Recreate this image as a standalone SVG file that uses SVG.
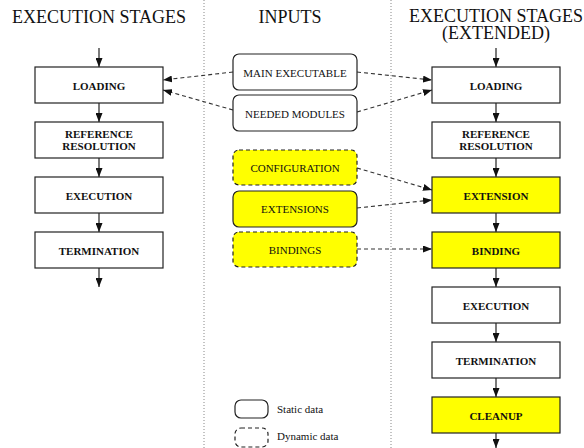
<svg xmlns="http://www.w3.org/2000/svg" width="584" height="448" viewBox="0 0 584 448">
<style>
.hdr{font-family:"Liberation Serif","Times New Roman",serif;font-size:18px;fill:#111;text-anchor:middle}
.stg{fill:#fff;stroke:#222;stroke-width:1.2}
.st{font-family:"Liberation Serif","Times New Roman",serif;font-size:11px;font-weight:bold;fill:#111;text-anchor:middle}
.inp{fill:#fff;stroke:#222;stroke-width:1.2}
.dyn{stroke-dasharray:4,3}
.hl{fill:#ffff00}
.it{font-family:"Liberation Serif","Times New Roman",serif;font-size:11px;fill:#111;text-anchor:middle}
.lt{font-family:"Liberation Serif","Times New Roman",serif;font-size:11px;fill:#111}
.flow{stroke:#222;stroke-width:1.2;fill:none}
.dash{stroke:#333;stroke-width:1.1;fill:none;stroke-dasharray:4,3}
.div{stroke:#888;stroke-width:1;stroke-dasharray:1,2}
</style>
<defs>
<marker id="ah" markerWidth="9" markerHeight="7" refX="9" refY="3.5" orient="auto" markerUnits="userSpaceOnUse">
<path d="M0,0 L9,3.5 L0,7 z" fill="#111"/>
</marker>
</defs>
<rect width="584" height="448" fill="#fff"/>
<line class="div" x1="204" y1="0" x2="204" y2="448"/>
<line class="div" x1="391" y1="0" x2="391" y2="448"/>
<text class="hdr" x="99" y="23">EXECUTION STAGES</text>
<text class="hdr" x="290" y="23">INPUTS</text>
<text class="hdr" x="496" y="22">EXECUTION STAGES</text>
<text class="hdr" x="496" y="39">(EXTENDED)</text>

<g id="connectors">
<line class="flow" x1="99" y1="48" x2="99" y2="67" marker-end="url(#ah)"/>
<line class="flow" x1="99" y1="103" x2="99" y2="122" marker-end="url(#ah)"/>
<line class="flow" x1="99" y1="158" x2="99" y2="177" marker-end="url(#ah)"/>
<line class="flow" x1="99" y1="213" x2="99" y2="232" marker-end="url(#ah)"/>
<line class="flow" x1="99" y1="268" x2="99" y2="287" marker-end="url(#ah)"/>
<line class="flow" x1="496" y1="48" x2="496" y2="67" marker-end="url(#ah)"/>
<line class="flow" x1="496" y1="103" x2="496" y2="122" marker-end="url(#ah)"/>
<line class="flow" x1="496" y1="158" x2="496" y2="177" marker-end="url(#ah)"/>
<line class="flow" x1="496" y1="213" x2="496" y2="232" marker-end="url(#ah)"/>
<line class="flow" x1="496" y1="268" x2="496" y2="287" marker-end="url(#ah)"/>
<line class="flow" x1="496" y1="323" x2="496" y2="342" marker-end="url(#ah)"/>
<line class="flow" x1="496" y1="378" x2="496" y2="397" marker-end="url(#ah)"/>
<line class="flow" x1="496" y1="433" x2="496" y2="448" marker-end="url(#ah)"/>
<line class="dash" x1="233" y1="72" x2="163" y2="80" marker-end="url(#ah)"/>
<line class="dash" x1="233" y1="110" x2="163" y2="90" marker-end="url(#ah)"/>
<line class="dash" x1="357" y1="72" x2="432" y2="80" marker-end="url(#ah)"/>
<line class="dash" x1="357" y1="112" x2="432" y2="90" marker-end="url(#ah)"/>
<line class="dash" x1="357" y1="168" x2="432" y2="190" marker-end="url(#ah)"/>
<line class="dash" x1="357" y1="208" x2="432" y2="200" marker-end="url(#ah)"/>
<line class="dash" x1="357" y1="249" x2="432" y2="249" marker-end="url(#ah)"/>
</g>

<g id="l-loading"><rect class="stg" x="35" y="67" width="128" height="36"/><text class="st" x="99" y="89.5">LOADING</text></g>
<g id="l-refres"><rect class="stg" x="35" y="122" width="128" height="36"/><text class="st" x="99" y="138">REFERENCE</text><text class="st" x="99" y="150">RESOLUTION</text></g>
<g id="l-execution"><rect class="stg" x="35" y="177" width="128" height="36"/><text class="st" x="99" y="199.5">EXECUTION</text></g>
<g id="l-termination"><rect class="stg" x="35" y="232" width="128" height="36"/><text class="st" x="99" y="254.5">TERMINATION</text></g>

<g id="r-loading"><rect class="stg" x="432" y="67" width="128" height="36"/><text class="st" x="496" y="89.5">LOADING</text></g>
<g id="r-refres"><rect class="stg" x="432" y="122" width="128" height="36"/><text class="st" x="496" y="138">REFERENCE</text><text class="st" x="496" y="150">RESOLUTION</text></g>
<g id="r-extension"><rect class="stg hl" x="432" y="177" width="128" height="36"/><text class="st" x="496" y="199.5">EXTENSION</text></g>
<g id="r-binding"><rect class="stg hl" x="432" y="232" width="128" height="36"/><text class="st" x="496" y="254.5">BINDING</text></g>
<g id="r-execution"><rect class="stg" x="432" y="287" width="128" height="36"/><text class="st" x="496" y="309.5">EXECUTION</text></g>
<g id="r-termination"><rect class="stg" x="432" y="342" width="128" height="36"/><text class="st" x="496" y="364.5">TERMINATION</text></g>
<g id="r-cleanup"><rect class="stg hl" x="432" y="397" width="128" height="36"/><text class="st" x="496" y="419.5">CLEANUP</text></g>

<g id="i-main"><rect class="inp" x="233" y="54" width="124" height="36" rx="6"/><text class="it" x="295" y="76.5">MAIN EXECUTABLE</text></g>
<g id="i-needed"><rect class="inp" x="233" y="95" width="124" height="36" rx="6"/><text class="it" x="295" y="117.5">NEEDED MODULES</text></g>
<g id="i-config"><rect class="inp dyn hl" x="233" y="150" width="124" height="35" rx="6"/><text class="it" x="295" y="171.5">CONFIGURATION</text></g>
<g id="i-ext"><rect class="inp hl" x="233" y="191" width="124" height="36" rx="6"/><text class="it" x="295" y="213">EXTENSIONS</text></g>
<g id="i-bind"><rect class="inp dyn hl" x="233" y="232" width="124" height="35" rx="6"/><text class="it" x="295" y="253.5">BINDINGS</text></g>

<g id="legend-static"><rect class="inp" x="235" y="400" width="33" height="18" rx="6"/><text class="lt" x="277" y="413">Static data</text></g>
<g id="legend-dynamic"><rect class="inp dyn" x="235" y="428" width="33" height="19" rx="6"/><text class="lt" x="277" y="440">Dynamic data</text></g>
</svg>
